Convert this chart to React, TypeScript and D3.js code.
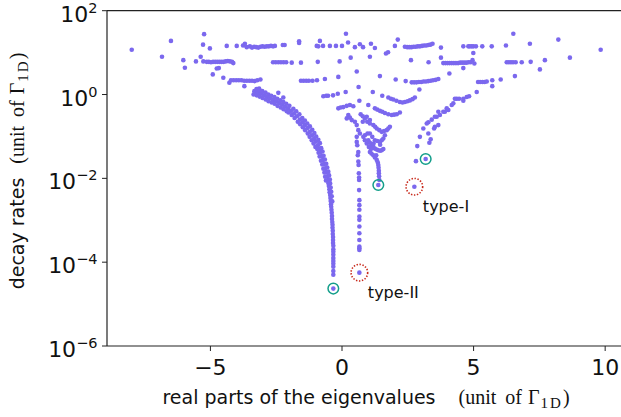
import React from "react"
import * as d3 from "d3"

// points are [real part, log10(decay rate)], both in units of Γ_1D
const topRowA: [number, number][] = [
  [-7.99, 1.07], [-6.84, 0.9], [-6.5, 1.28], [-5.24, 1.44], [-5.28, 1.19], [-5.02, 1.1], [-4.38, 1.16], [-4.0, 1.16],
  [-3.76, 1.17], [-3.69, 1.21], [-3.62, 1.13], [-3.5, 1.15], [-3.42, 1.12], [-3.34, 1.14], [-3.26, 1.13], [-3.18, 1.12],
  [-3.1, 1.14], [-3.02, 1.15], [-2.94, 1.14], [-2.86, 1.15], [-2.78, 1.15], [-2.7, 1.16], [-2.62, 1.15], [-2.55, 1.16],
  [-2.25, 1.18], [-2.18, 1.18], [-1.63, 1.27], [-1.63, 1.23],
  [-0.84, 1.28], [-0.96, 1.16], [-0.9, 1.15], [-0.72, 1.16], [-0.46, 1.16], [-0.23, 1.16], [0.0, 1.16],
  [0.15, 1.45], [0.23, 1.24], [0.49, 1.13], [0.68, 1.2], [0.8, 1.13], [1.1, 1.21], [1.25, 1.11], [1.67, 0.98], [1.75, 1.01],
  [2.01, 1.16], [2.12, 1.31],
  [2.39, 1.14], [2.48, 1.13], [2.56, 1.13], [2.64, 1.13], [2.72, 1.14], [2.8, 1.14], [2.88, 1.15], [2.96, 1.15], [3.04, 1.16],
  [3.12, 1.17], [3.2, 1.17], [3.28, 1.18], [3.36, 1.19], [3.44, 1.21], [3.76, 1.12],
  [4.61, 1.15], [4.8, 1.15], [4.86, 1.15], [4.93, 1.15], [4.99, 1.15], [5.09, 1.15], [5.33, 1.15], [5.69, 1.15],
  [6.23, 1.17], [6.51, 1.45], [7.14, 1.21], [8.22, 1.31], [8.66, 0.88], [9.83, 1.07],
]

const topRowB: [number, number][] = [
  [-6.03, 0.82], [-5.97, 0.64], [-5.55, 0.79], [-5.37, 0.9], [-5.27, 0.79],
  [-5.14, 0.78], [-5.06, 0.78], [-4.98, 0.77], [-4.9, 0.78], [-4.82, 0.78], [-4.74, 0.78], [-4.66, 0.78], [-4.58, 0.78],
  [-4.5, 0.78], [-4.42, 0.79], [-4.34, 0.8], [-4.26, 0.79], [-4.18, 0.78], [-4.13, 0.75],
  [-4.76, 0.62], [-4.68, 0.63], [-4.91, 0.48],
  [-2.62, 0.77], [-2.52, 0.77], [-2.42, 0.77], [-2.32, 0.77], [-2.22, 0.77], [-2.12, 0.77], [-1.91, 0.76], [-1.56, 0.76],
  [-0.92, 0.78], [-0.09, 0.79],
  [0.33, 0.88], [0.56, 0.55], [1.06, 0.9], [2.62, 0.82], [3.29, 0.77], [3.76, 0.88],
  [3.85, 0.75], [3.93, 0.75], [4.01, 0.75], [4.09, 0.75], [4.17, 0.75], [4.25, 0.75], [4.33, 0.75], [4.41, 0.75],
  [4.49, 0.76], [4.57, 0.76], [4.65, 0.76], [4.73, 0.76], [4.81, 0.77], [4.89, 0.77],
  [4.99, 0.99], [5.03, 0.74], [4.96, 0.82], [4.61, 0.63], [4.08, 0.5],
  [6.26, 0.77], [6.34, 0.77], [6.42, 0.77], [6.5, 0.77], [6.6, 0.77], [6.83, 0.77], [7.17, 0.78], [7.71, 0.82], [7.52, 0.6],
]

const topRowC: [number, number][] = [
  [-4.51, 0.4], [-4.28, 0.28],
  [-4.22, 0.34], [-4.12, 0.34], [-4.02, 0.34], [-3.92, 0.34], [-3.82, 0.34], [-3.72, 0.33], [-3.62, 0.33], [-3.52, 0.33],
  [-3.42, 0.33], [-3.32, 0.32], [-3.22, 0.34], [-3.1, 0.36],
  [-3.71, 0.2], [-3.33, 0.08],
  [-1.56, 0.33], [-1.46, 0.33], [-1.36, 0.33], [-1.26, 0.33], [-1.12, 0.33], [-0.95, 0.34], [-0.65, 0.37], [-0.14, 0.42],
  [1.44, 0.44], [2.04, 0.36], [2.42, 0.32],
  [2.65, 0.29], [2.74, 0.29], [2.83, 0.29], [2.92, 0.3], [3.01, 0.3], [3.1, 0.31], [3.19, 0.31], [3.28, 0.32], [3.37, 0.33],
  [3.46, 0.34], [3.56, 0.35], [3.66, 0.37],
  [2.94, 0.12],
  [5.17, 0.3], [5.25, 0.3], [5.34, 0.3], [5.42, 0.3], [5.5, 0.31], [5.71, 0.34], [5.71, 0.2], [6.03, 0.36], [6.57, 0.44],
]

const topRowD: [number, number][] = [
  [-3.15, 0.14], [-3.05, 0.06], [-2.42, 0.04], [-2.23, -0.07],
  [-0.71, -0.04], [-0.6, -0.03], [-0.53, -0.03], [-0.34, -0.02], [-0.16, 0.02], [0.14, 0.06], [0.63, 0.18], [1.17, 0.06],
  [1.53, -0.03],
  [1.76, -0.07], [1.86, -0.1], [1.95, -0.12], [2.07, -0.15], [2.2, -0.18], [2.3, -0.19], [2.39, -0.18], [2.49, -0.16],
  [2.58, -0.14], [2.68, -0.11], [2.77, -0.07],
]

const leftBranch: [number, number][] = [
  [-3.31, 0.06], [-3.19, 0.04], [-3.08, 0.02], [-2.96, -0.02], [-2.85, -0.06], [-2.74, -0.09], [-2.62, -0.13], [-2.51, -0.16],
  [-2.39, -0.2], [-2.28, -0.24], [-2.17, -0.29], [-2.05, -0.33], [-1.94, -0.39], [-1.82, -0.45], [-1.71, -0.52], [-1.6, -0.6],
  [-1.5, -0.66], [-1.41, -0.73], [-1.31, -0.8], [-1.22, -0.89], [-1.14, -0.97], [-1.06, -1.05], [-0.99, -1.12], [-0.92, -1.21],
  [-0.87, -1.29], [-0.82, -1.37], [-0.77, -1.47], [-0.72, -1.56], [-0.68, -1.66], [-0.64, -1.76], [-0.6, -1.85], [-0.56, -1.95],
  [-0.53, -2.04],
  [-3.25, 0.13], [-3.14, 0.11], [-3.03, 0.08], [-2.91, 0.05], [-2.8, 0.0], [-2.69, -0.03], [-2.57, -0.06], [-2.46, -0.1],
  [-2.34, -0.14], [-2.23, -0.18], [-2.12, -0.22], [-2.0, -0.27], [-1.85, -0.34], [-1.74, -0.4], [-1.62, -0.47], [-1.51, -0.56],
  [-1.41, -0.62], [-1.32, -0.69], [-1.22, -0.76], [-1.13, -0.84], [-1.05, -0.92], [-0.98, -1.0], [-0.9, -1.08], [-0.84, -1.16],
  [-0.79, -1.28], [-0.74, -1.36], [-0.7, -1.46], [-0.65, -1.55], [-0.6, -1.65], [-0.56, -1.74], [-0.52, -1.84], [-0.49, -1.93],
  [-0.46, -2.03],
  [-3.36, 0.0], [-3.24, -0.02], [-3.13, -0.05], [-3.02, -0.08], [-2.9, -0.12], [-2.79, -0.16], [-2.67, -0.19], [-2.56, -0.22],
  [-2.45, -0.27], [-2.33, -0.31], [-2.22, -0.35], [-2.1, -0.4], [-2.03, -0.43], [-1.91, -0.49], [-1.8, -0.56], [-1.68, -0.65],
  [-1.59, -0.71], [-1.49, -0.78], [-1.4, -0.85], [-1.3, -0.93], [-1.23, -1.01], [-1.15, -1.09], [-1.08, -1.17], [-1.01, -1.25],
  [-0.94, -1.3], [-0.89, -1.39], [-0.85, -1.48], [-0.8, -1.58], [-0.75, -1.67], [-0.71, -1.77], [-0.67, -1.86], [-0.64, -1.96],
  [-0.61, -2.05],
  [-0.52, -2.11], [-0.5, -2.18], [-0.48, -2.26], [-0.47, -2.33], [-0.45, -2.4], [-0.44, -2.47], [-0.43, -2.54], [-0.42, -2.62],
  [-0.41, -2.68], [-0.4, -2.75], [-0.39, -2.82], [-0.38, -2.9], [-0.38, -2.97], [-0.37, -3.04], [-0.36, -3.11], [-0.36, -3.18],
  [-0.35, -3.25], [-0.35, -3.33], [-0.34, -3.4], [-0.34, -3.47], [-0.34, -3.54], [-0.33, -3.61], [-0.33, -3.69], [-0.33, -3.75],
  [-0.33, -3.82], [-0.33, -3.9], [-0.33, -3.97], [-0.33, -4.04], [-0.33, -4.11], [-0.33, -4.21], [-0.33, -4.3],
  [-0.45, -2.12], [-0.43, -2.22], [-0.41, -2.32], [-0.39, -2.43], [-0.37, -2.55],
]

const centerFan: [number, number][] = [
  [-0.14, -0.33], [-0.05, -0.31], [0.05, -0.3], [0.18, -0.27], [0.3, -0.25], [0.43, -0.28], [0.66, -0.15], [1.0, -0.25], [0.18, -0.57],
  [1.25, -0.33], [1.34, -0.36], [1.44, -0.39], [1.53, -0.41], [1.63, -0.44], [1.76, -0.47], [1.89, -0.49], [1.98, -0.48],
  [2.08, -0.47], [2.2, -0.43],
  [0.24, -0.49], [0.3, -0.55], [0.37, -0.61], [0.49, -0.65], [0.56, -0.73], [0.62, -0.85], [0.68, -0.93], [0.81, -1.01],
  [0.87, -1.09], [0.94, -1.17], [0.71, -0.47], [0.79, -0.52], [0.87, -0.57], [0.96, -0.65], [0.79, -0.65], [0.94, -0.53], [1.06, -0.61],
  [1.06, -0.69], [1.19, -0.73], [1.26, -0.77], [1.32, -0.81], [1.42, -0.85], [1.51, -0.89], [1.6, -0.87], [1.7, -0.85],
  [1.76, -0.81], [1.82, -0.77],
  [0.87, -0.97], [0.97, -0.93], [1.06, -0.93], [1.15, -1.01], [1.25, -1.09], [1.34, -1.11], [1.44, -1.13], [1.51, -1.09],
  [1.57, -1.05], [1.63, -0.97],
  [1.0, -1.09], [1.06, -1.15], [1.13, -1.21], [1.19, -1.25], [1.25, -1.29], [1.32, -1.31], [1.38, -1.33], [1.45, -1.34],
  [1.51, -1.33], [1.57, -1.3],
  [1.06, -1.37], [1.12, -1.41], [1.19, -1.45], [1.25, -1.5], [1.32, -1.56], [1.36, -1.62], [1.38, -1.68], [1.39, -1.75],
  [1.4, -1.82], [1.4, -1.88], [1.41, -1.95], [1.42, -2.04], [1.02, -1.25], [1.1, -1.3], [1.3, -1.45], [1.45, -1.2], [1.2, -1.17],
]

const centerColumn: [number, number][] = [
  [0.56, -1.01], [0.56, -1.13], [0.58, -1.21], [0.62, -1.37], [0.6, -1.45], [0.62, -1.6], [0.63, -1.68], [0.64, -1.88],
  [0.65, -1.98], [0.65, -2.04], [0.65, -2.28], [0.66, -2.52], [0.66, -2.64], [0.66, -2.75], [0.66, -2.91], [0.66, -2.99],
  [0.66, -3.15], [0.66, -3.31], [0.66, -3.47], [0.66, -3.63], [0.66, -3.71], [0.66, -3.67],
]

const rightBranch: [number, number][] = [
  [5.12, 0.06], [4.83, -0.04], [4.74, -0.06], [4.61, -0.1], [4.61, -0.15], [4.45, -0.1], [4.36, -0.1], [4.29, -0.1],
  [4.23, -0.21], [4.17, -0.25], [4.04, -0.37], [3.98, -0.33], [3.91, -0.41], [3.85, -0.41], [3.72, -0.49], [3.66, -0.41],
  [3.6, -0.53], [3.53, -0.53], [3.41, -0.6], [3.28, -0.66], [3.22, -0.69], [3.09, -0.81], [2.96, -1.01], [2.86, -1.23],
  [2.81, -1.59], [3.66, -0.73], [3.53, -0.77], [3.5, -0.81], [3.37, -1.07], [3.32, -1.15], [3.28, -0.93],
]

const circledTeal: [number, number][] = [[-0.33, -4.63], [1.38, -2.16], [3.18, -1.54]]
const circledRed: [number, number][] = [[0.66, -4.25], [2.75, -2.2]]
const annotations: { at: [number, number]; text: string }[] = [
  { at: [2.75, -2.2], text: "type-I" },
  { at: [0.66, -4.25], text: "type-II" },
]

const xTicks = [-5, 0, 5, 10]
const yTickExps = [-6, -4, -2, 0, 2]

const W = 621
const H = 417
const left = 107
const right = 622
const top = 10.7
const bottom = 346

const sans = "DejaVu Sans"
const serif = "Liberation Serif"
const dotColor = "#7B68EE"

const x = d3.scaleLinear().domain([-8.93, 10.64]).range([left, right])
const y = d3.scaleLog().domain([1e-6, 1e2]).range([bottom, top])
const py = (e: number) => y(Math.pow(10, e))
const minus = (v: number) => String(v).replace("-", "\u2212")

const allPoints = [...topRowA, ...topRowB, ...topRowC, ...topRowD, ...leftBranch, ...centerFan, ...centerColumn, ...rightBranch, ...circledTeal, ...circledRed]

export default function App() {
  return (
    <div style={{ position: "absolute", left: 0, top: 0 }}>
      <svg width={W} height={H} style={{ display: "block", background: "#fff" }}>
        {allPoints.map((p, i) => (
          <circle key={i} cx={x(p[0])} cy={py(p[1])} r={2.3} fill={dotColor} />
        ))}
        {circledTeal.map((p, i) => (
          <circle key={"t" + i} cx={x(p[0])} cy={py(p[1])} r={5.3} fill="none" stroke="#139e8a" strokeWidth={1.5} />
        ))}
        {circledRed.map((p, i) => (
          <circle key={"r" + i} cx={x(p[0])} cy={py(p[1])} r={8.3} fill="none" stroke="#c8281a" strokeWidth={1.6} strokeDasharray="1.4 1.6" />
        ))}
        {annotations.map((a, i) => (
          <text key={"a" + i} x={x(a.at[0]) + 8.5} y={py(a.at[1]) + 25} fontFamily={sans} fontSize={16} fill="#111">
            {a.text}
          </text>
        ))}

        {/* spines */}
        <line x1={left} x2={right} y1={top} y2={top} stroke="#222" strokeWidth={1.2} />
        <line x1={left} x2={right} y1={bottom} y2={bottom} stroke="#222" strokeWidth={1.2} />
        <line x1={left} x2={left} y1={top} y2={bottom} stroke="#222" strokeWidth={1.2} />

        {xTicks.map((t) => (
          <g key={"x" + t}>
            <line x1={x(t)} x2={x(t)} y1={bottom} y2={bottom + 5} stroke="#222" strokeWidth={1} />
            <text x={x(t)} y={bottom + 29} textAnchor="middle" fontFamily={sans} fontSize={22} fill="#111">
              {minus(t)}
            </text>
          </g>
        ))}
        {yTickExps.map((e) => (
          <g key={"y" + e}>
            <line x1={left - 5} x2={left} y1={py(e)} y2={py(e)} stroke="#222" strokeWidth={1} />
            <text x={left - 9.5} y={py(e) + 11} textAnchor="end" fontFamily={sans} fontSize={22} fill="#111">
              <tspan>10</tspan>
              <tspan fontSize={14.5} dy={-9}>{minus(e)}</tspan>
            </text>
          </g>
        ))}

        <text x={366} y={404} textAnchor="middle" fontSize={19} fill="#111">
          <tspan fontFamily={sans}>real parts of the eigenvalues</tspan>
          <tspan fontFamily={serif} fontSize={20} dx={23}>(unit</tspan>
          <tspan fontFamily={serif} fontSize={20} dx={9}>of</tspan>
          <tspan fontFamily={serif} fontSize={20} dx={6}>Γ</tspan>
          <tspan fontFamily={serif} fontSize={15} dx={1} dy={4} letterSpacing={2}>1D</tspan>
          <tspan fontFamily={serif} fontSize={20} dy={-4}>)</tspan>
        </text>

        <text transform="translate(24,171) rotate(-90)" textAnchor="middle" fontSize={19} fill="#111">
          <tspan fontFamily={sans}>decay rates</tspan>
          <tspan fontFamily={serif} fontSize={20} dx={14}>(unit</tspan>
          <tspan fontFamily={serif} fontSize={20} dx={9}>of</tspan>
          <tspan fontFamily={serif} fontSize={20} dx={6}>Γ</tspan>
          <tspan fontFamily={serif} fontSize={15} dx={1} dy={4} letterSpacing={2}>1D</tspan>
          <tspan fontFamily={serif} fontSize={20} dy={-4}>)</tspan>
        </text>
      </svg>
    </div>
  )
}
